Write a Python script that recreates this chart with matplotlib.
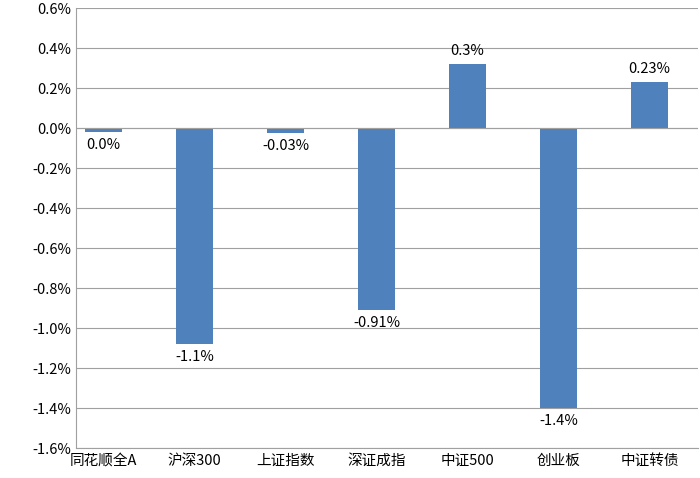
import matplotlib.pyplot as plt
from matplotlib.ticker import FuncFormatter

plt.rcParams['font.family'] = ['Noto Sans CJK SC', 'DejaVu Sans']

categories = ["同花顺全A", "沪深300", "上证指数", "深证成指", "中证500", "创业板", "中证转债"]
values = [-0.02, -1.08, -0.025, -0.91, 0.32, -1.40, 0.23]
labels = ["0.0%", "-1.1%", "-0.03%", "-0.91%", "0.3%", "-1.4%", "0.23%"]

fig = plt.figure(figsize=(7, 4.78), dpi=100)
ax = fig.add_axes([0.109, 0.062, 0.888, 0.921])

x = range(len(categories))
ax.bar(x, values, width=0.4, color="#4F81BD", zorder=3)
ax.set_ylim(-1.6, 0.6)
ax.set_xlim(-0.3, 6.53)
ax.set_yticks([i / 10 for i in range(-16, 7, 2)])
ax.yaxis.set_major_formatter(FuncFormatter(lambda v, p: f"{v:.1f}%"))
ax.grid(axis="y", color="#A0A0A0", linewidth=0.8, zorder=0)
ax.axhline(0, color="#A0A0A0", linewidth=0.8, zorder=4)
ax.set_xticks(list(x))
ax.set_xticklabels(categories)
ax.tick_params(axis="x", length=0, labelsize=10.5, pad=4)
ax.tick_params(axis="y", length=0, labelsize=10.5)
for s in ["top", "right"]:
    ax.spines[s].set_visible(False)
for s in ["left", "bottom"]:
    ax.spines[s].set_color("#A0A0A0")

for xi, v, lab in zip(x, values, labels):
    if v >= 0:
        ax.text(xi, v + 0.03, lab, ha="center", va="bottom", fontsize=10.5)
    else:
        ax.text(xi, v - 0.03, lab, ha="center", va="top", fontsize=10.5)

fig.savefig("out.png", dpi=100)
